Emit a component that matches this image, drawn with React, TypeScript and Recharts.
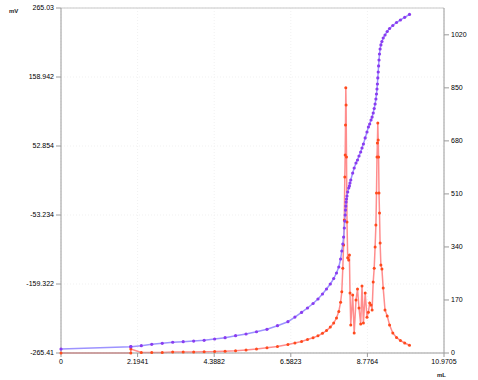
import React from 'react';
import { LineChart, Line, XAxis, YAxis, CartesianGrid, ReferenceLine } from 'recharts';

// titrant volume (mL)
const volumes = [
  0, 2.0, 2.0, 2.3, 2.6, 2.9, 3.2, 3.5, 3.8, 4.1, 4.4, 4.7, 5.0, 5.3, 5.6, 5.9, 6.2, 6.5,
  6.7, 6.89, 7.06, 7.22, 7.36, 7.49, 7.605, 7.714, 7.811, 7.891, 7.957, 8.009, 8.043,
  8.072, 8.095, 8.115, 8.129, 8.14, 8.149, 8.158, 8.166, 8.178, 8.192, 8.212, 8.241,
  8.261, 8.278, 8.3, 8.355, 8.398, 8.45, 8.493, 8.536, 8.584, 8.622, 8.662, 8.713,
  8.765, 8.805, 8.842, 8.88, 8.911, 8.943, 8.971, 8.997, 9.02, 9.037, 9.051, 9.063,
  9.074, 9.086, 9.097, 9.109, 9.123, 9.14, 9.163, 9.192, 9.229, 9.281, 9.344, 9.412,
  9.504, 9.61, 9.722, 9.845, 9.982,
];

// electrode potential (mV)
const potential = [
  -259.3, -255.7, -255.7, -254.2, -252.0, -250.5, -248.9, -248.0, -247.0, -245.9, -243.9,
  -241.9, -238.8, -236.2, -232.7, -229.0, -223.4, -217.3,
  -210.1, -203.1, -196.2, -189.3, -182.4, -174.7, -167.0, -159.3, -150.9, -142.4, -133.2,
  -120.9, -108.6, -97.9, -87.1, -73.2, -62.5, -53.2, -45.6, -39.5, -33.3, -28.6, -24.0,
  -17.9, -11.7, -8.6, -4.0, 0.6, 11.3, 19.0, 26.7, 31.3, 37.5, 43.6, 49.8, 55.9, 65.2,
  74.4, 82.1, 86.7, 92.8, 97.4, 103.6, 110.5, 117.4, 125.1, 132.8, 140.5, 148.2, 157.5,
  166.6, 175.9, 185.1, 194.3, 202.0, 208.2, 213.5, 218.9, 223.5, 228.9, 233.5, 238.1,
  242.7, 246.6, 250.7, 255.1,
];

// first derivative dE/dV
const derivative = [
  0, 0, 13, 2, 2, 2, 3, 3, 3, 4, 4.5, 6, 7, 10, 13, 17, 21, 27,
  32, 37, 43, 49, 55, 63, 72, 83, 96, 112, 133, 163, 196, 272, 346, 426, 564, 635, 731,
  850, 795, 628, 420, 305, 298, 314, 192, 90, 186, 64, 170, 205, 144, 93, 215, 96, 192,
  115, 131, 160, 154, 138, 228, 272, 340, 410, 513, 628, 673, 737, 683, 628, 513, 449,
  353, 282, 269, 208, 138, 119, 90, 64, 50, 40, 32, 25,
];

const volumeTicks = [0, 2.1941, 4.3882, 6.5823, 8.7764, 10.9705];
const potentialTicks = [-265.41, -159.322, -53.234, 52.854, 158.942, 265.03];
const derivativeTicks = [0, 170, 340, 510, 680, 850, 1020];

const rows = volumes.map((v, i) => ({ v, mv: potential[i], d: derivative[i] }));

const tickStyle = { fontSize: 7, fill: '#000', fontFamily: 'Liberation Sans' };
const axisColor = '#9a9a9a';

export default function App() {
  return (
    <div style={{ position: 'absolute', left: 0, top: 0, width: 478, height: 380, background: '#fff' }}>
      <LineChart width={478} height={380} data={rows} margin={{ top: 8, right: 0, bottom: 0, left: 0 }}>
        <CartesianGrid yAxisId="left" stroke="#f1f1f1" strokeDasharray="1 2" />
        <XAxis
          dataKey="v"
          type="number"
          domain={[0, 10.9705]}
          ticks={volumeTicks}
          height={27}
          tick={tickStyle}
          tickSize={4}
          stroke={axisColor}
          interval={0}
        />
        <YAxis
          yAxisId="left"
          type="number"
          domain={[-265.41, 265.03]}
          ticks={potentialTicks}
          width={61}
          tick={tickStyle}
          tickSize={5}
          stroke={axisColor}
          interval={0}
        />
        <YAxis
          yAxisId="right"
          orientation="right"
          type="number"
          domain={[0, 1106]}
          ticks={derivativeTicks}
          width={34}
          tick={tickStyle}
          tickSize={5}
          stroke={axisColor}
          interval={0}
        />
        <ReferenceLine yAxisId="left" y={265.03} stroke="#c8c8c8" />
        <Line
          yAxisId="right"
          dataKey="d"
          stroke="#ff7070"
          strokeOpacity={0.8}
          strokeWidth={1.5}
          dot={{ r: 1.5, fill: '#ff4a1c', stroke: 'none' }}
          isAnimationActive={false}
        />
        <Line
          yAxisId="left"
          dataKey="mv"
          stroke="#9d93ff"
          strokeWidth={1.5}
          dot={{ r: 1.6, fill: '#8a3cf0', stroke: 'none' }}
          isAnimationActive={false}
        />
      </LineChart>
      <div style={{ position: 'absolute', left: 9, top: 8, fontSize: 6, fontFamily: 'Liberation Sans', fontWeight: 'bold', color: '#222' }}>
        mV
      </div>
      <div style={{ position: 'absolute', left: 437, top: 372, fontSize: 6, fontFamily: 'Liberation Sans', fontWeight: 'bold', color: '#222' }}>
        mL
      </div>
    </div>
  );
}
